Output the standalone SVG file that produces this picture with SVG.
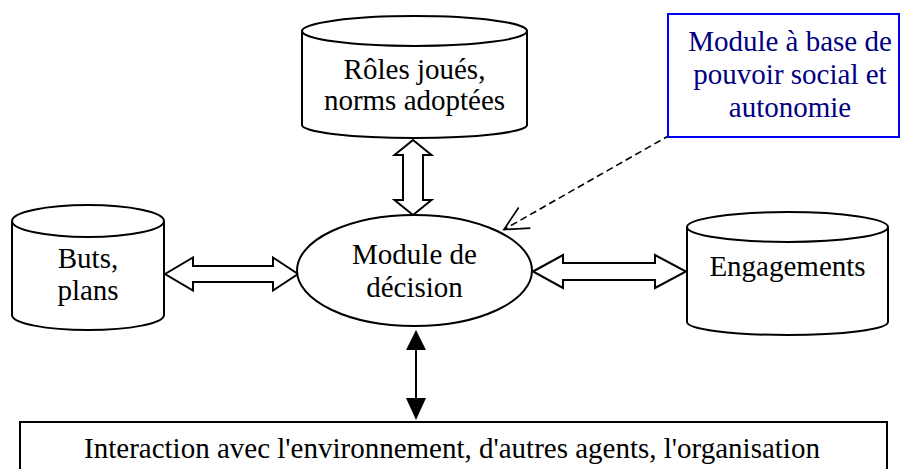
<svg xmlns="http://www.w3.org/2000/svg" width="900" height="469" viewBox="0 0 900 469">
<style>
.s{fill:#fff;stroke:#000;stroke-width:2}
.t{font-family:"Liberation Serif","Times New Roman",serif;font-size:29px;fill:#000;text-anchor:middle}
.b{fill:#000080}
</style>
<defs>
<marker id="open" markerUnits="userSpaceOnUse" markerWidth="30" markerHeight="30" viewBox="-24 -14 28 28" refX="0" refY="0" orient="auto">
<path d="M-22,-11 L0,0 L-22,11" fill="none" stroke="#000" stroke-width="1.6"/>
</marker>
</defs>
<rect width="900" height="469" fill="#fff"/>
<g id="connectors">
<polygon class="s" points="413,140 431.5,155 423,155 423,200 431.5,200 413,215 394.5,200 403,200 403,155 394.5,155"/>
<polygon class="s" points="165,274 193,257.5 193,266 273,266 273,257.5 298,274 273,290.5 273,282 193,282 193,290.5"/>
<polygon class="s" points="533,271.5 563,255 563,263 655,263 655,255 686,271.5 655,288 655,280 563,280 563,288"/>
<line x1="416" y1="348" x2="416" y2="400" stroke="#000" stroke-width="2"/>
<polygon points="416,330 406,350 426,350" fill="#000"/>
<polygon points="416,420 406,398 426,398" fill="#000"/>
<line x1="670" y1="135" x2="504" y2="229.5" stroke="#000" stroke-width="1.6" stroke-dasharray="7,4" marker-end="url(#open)"/>
</g>
<g id="roles">
<path class="s" d="M302,31 A112.5,15 0 0 1 527,31 V125 A112.5,13 0 0 1 302,125 Z"/>
<path class="s" fill="none" d="M302,31 A112.5,15 0 0 0 527,31"/>
<text class="t" x="414.5" y="79">Rôles joués,</text>
<text class="t" x="414.5" y="110">norms adoptées</text>
</g>
<g id="buts">
<path class="s" d="M12,221 A76,16 0 0 1 164,221 V315 A76,15 0 0 1 12,315 Z"/>
<path class="s" fill="none" d="M12,221 A76,16 0 0 0 164,221"/>
<text class="t" x="88" y="268">Buts,</text>
<text class="t" x="88" y="300">plans</text>
</g>
<g id="engagements">
<path class="s" d="M687,227 A100.5,15 0 0 1 888,227 V322 A100.5,13 0 0 1 687,322 Z"/>
<path class="s" fill="none" d="M687,227 A100.5,15 0 0 0 888,227"/>
<text class="t" x="787.5" y="276">Engagements</text>
</g>
<g id="decision">
<ellipse class="s" cx="414.5" cy="270.5" rx="117.5" ry="55.5"/>
<text class="t" x="414.5" y="264">Module de</text>
<text class="t" x="414.5" y="297">décision</text>
</g>
<g id="pouvoir">
<rect x="668" y="14" width="231" height="123" fill="#fff" stroke="#0000ff" stroke-width="2"/>
<text class="t b" x="790" y="51">Module à base de</text>
<text class="t b" x="790" y="84">pouvoir social et</text>
<text class="t b" x="790" y="117">autonomie</text>
</g>
<g id="interaction">
<rect class="s" x="20" y="422" width="867" height="60"/>
<text class="t" x="452" y="458">Interaction avec l'environnement, d'autres agents, l'organisation</text>
</g>
</svg>
